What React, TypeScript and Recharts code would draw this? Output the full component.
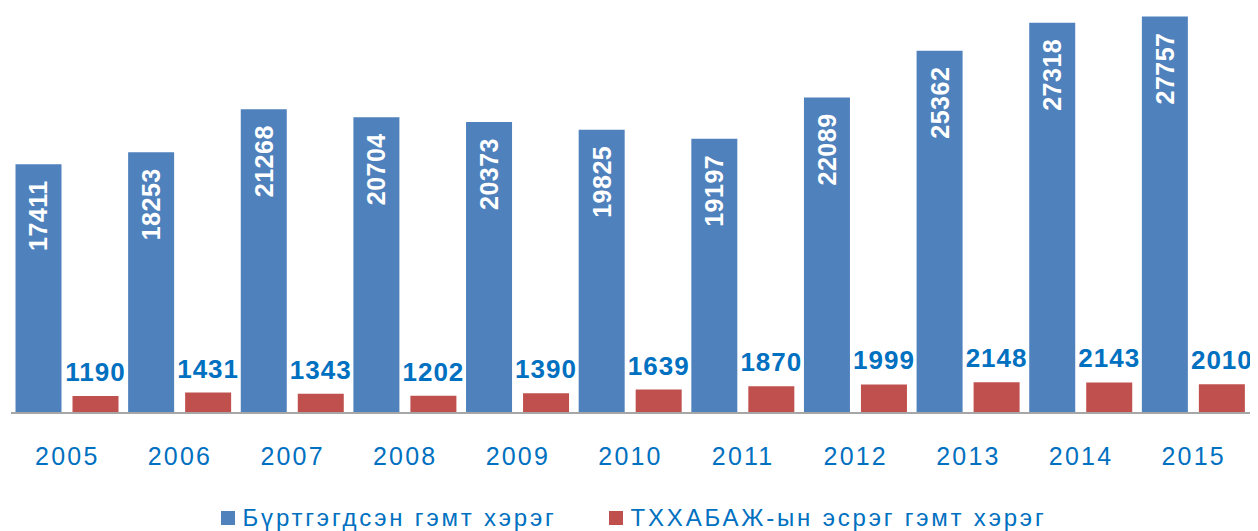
import React from 'react';
import { BarChart, Bar, XAxis, YAxis, Legend, LabelList } from 'recharts';

const years = ['2005', '2006', '2007', '2008', '2009', '2010', '2011', '2012', '2013', '2014', '2015'];
const registered = [17411, 18253, 21268, 20704, 20373, 19825, 19197, 22089, 25362, 27318, 27757];
const againstOfficials = [1190, 1431, 1343, 1202, 1390, 1639, 1870, 1999, 2148, 2143, 2010];

const seriesNames = ['Бүртгэгдсэн гэмт хэрэг', 'ТХХАБАЖ-ын эсрэг гэмт хэрэг'];

const BLUE = '#4F81BD';
const RED = '#C0504D';
const TEXT_BLUE = '#0070C0';
const FONT = 'Arial, "Liberation Sans", sans-serif';

const data = years.map((year, i) => ({
  year,
  registered: registered[i],
  against: againstOfficials[i],
}));

// white rotated label inside the top of the blue bar
const InsideLabel = (props: any) => {
  const { x, y, width, value } = props;
  const cx = x + width / 2;
  const cy = y + 16;
  return (
    <text
      x={cx}
      y={cy}
      transform={`rotate(-90 ${cx} ${cy})`}
      textAnchor="end"
      dominantBaseline="central"
      fill="#fff"
      fontFamily={FONT}
      fontWeight="bold"
      fontSize={25}
      letterSpacing={0.5}
    >
      {value}
    </text>
  );
};

const TopLabel = (props: any) => {
  const { x, y, width, value } = props;
  return (
    <text
      x={x + width / 2}
      y={y - 15}
      textAnchor="middle"
      fill={TEXT_BLUE}
      fontFamily={FONT}
      fontWeight="bold"
      fontSize={26}
      letterSpacing={1}
    >
      {value}
    </text>
  );
};

const CustomLegend = () => (
  <div
    style={{
      display: 'flex',
      justifyContent: 'center',
      alignItems: 'center',
      height: 26,
      fontFamily: FONT,
      fontSize: 24,
      color: TEXT_BLUE,
      letterSpacing: 2.8,
      paddingLeft: 6,
      whiteSpace: 'nowrap',
    }}
  >
    {[BLUE, RED].map((c, i) => (
      <div key={i} style={{ display: 'flex', alignItems: 'center', marginRight: i === 0 ? 52 : 0 }}>
        <span style={{ width: 14, height: 14, background: c, display: 'inline-block', marginRight: 8 }} />
        <span>{seriesNames[i]}</span>
      </div>
    ))}
  </div>
);

export default function App() {
  return (
    <BarChart
      width={1250}
      height={523}
      data={data}
      margin={{ top: 5, right: 8, bottom: 0, left: 3 }}
      barGap={11}
      barCategoryGap={4.5}
    >
      <XAxis
        dataKey="year"
        axisLine={{ stroke: '#A6A6A6', strokeWidth: 2 }}
        tickLine={false}
        tickSize={0}
        tickMargin={34}
        height={92}
        interval={0}
        tick={{ fill: TEXT_BLUE, fontSize: 25, fontFamily: FONT, letterSpacing: 2.2 }}
      />
      <YAxis hide domain={[0, 28000]} />
      <Legend verticalAlign="bottom" height={26} content={<CustomLegend />} />
      <Bar dataKey="registered" name={seriesNames[0]} fill={BLUE} isAnimationActive={false}>
        <LabelList dataKey="registered" content={<InsideLabel />} />
      </Bar>
      <Bar dataKey="against" name={seriesNames[1]} fill={RED} isAnimationActive={false}>
        <LabelList dataKey="against" content={<TopLabel />} />
      </Bar>
    </BarChart>
  );
}
